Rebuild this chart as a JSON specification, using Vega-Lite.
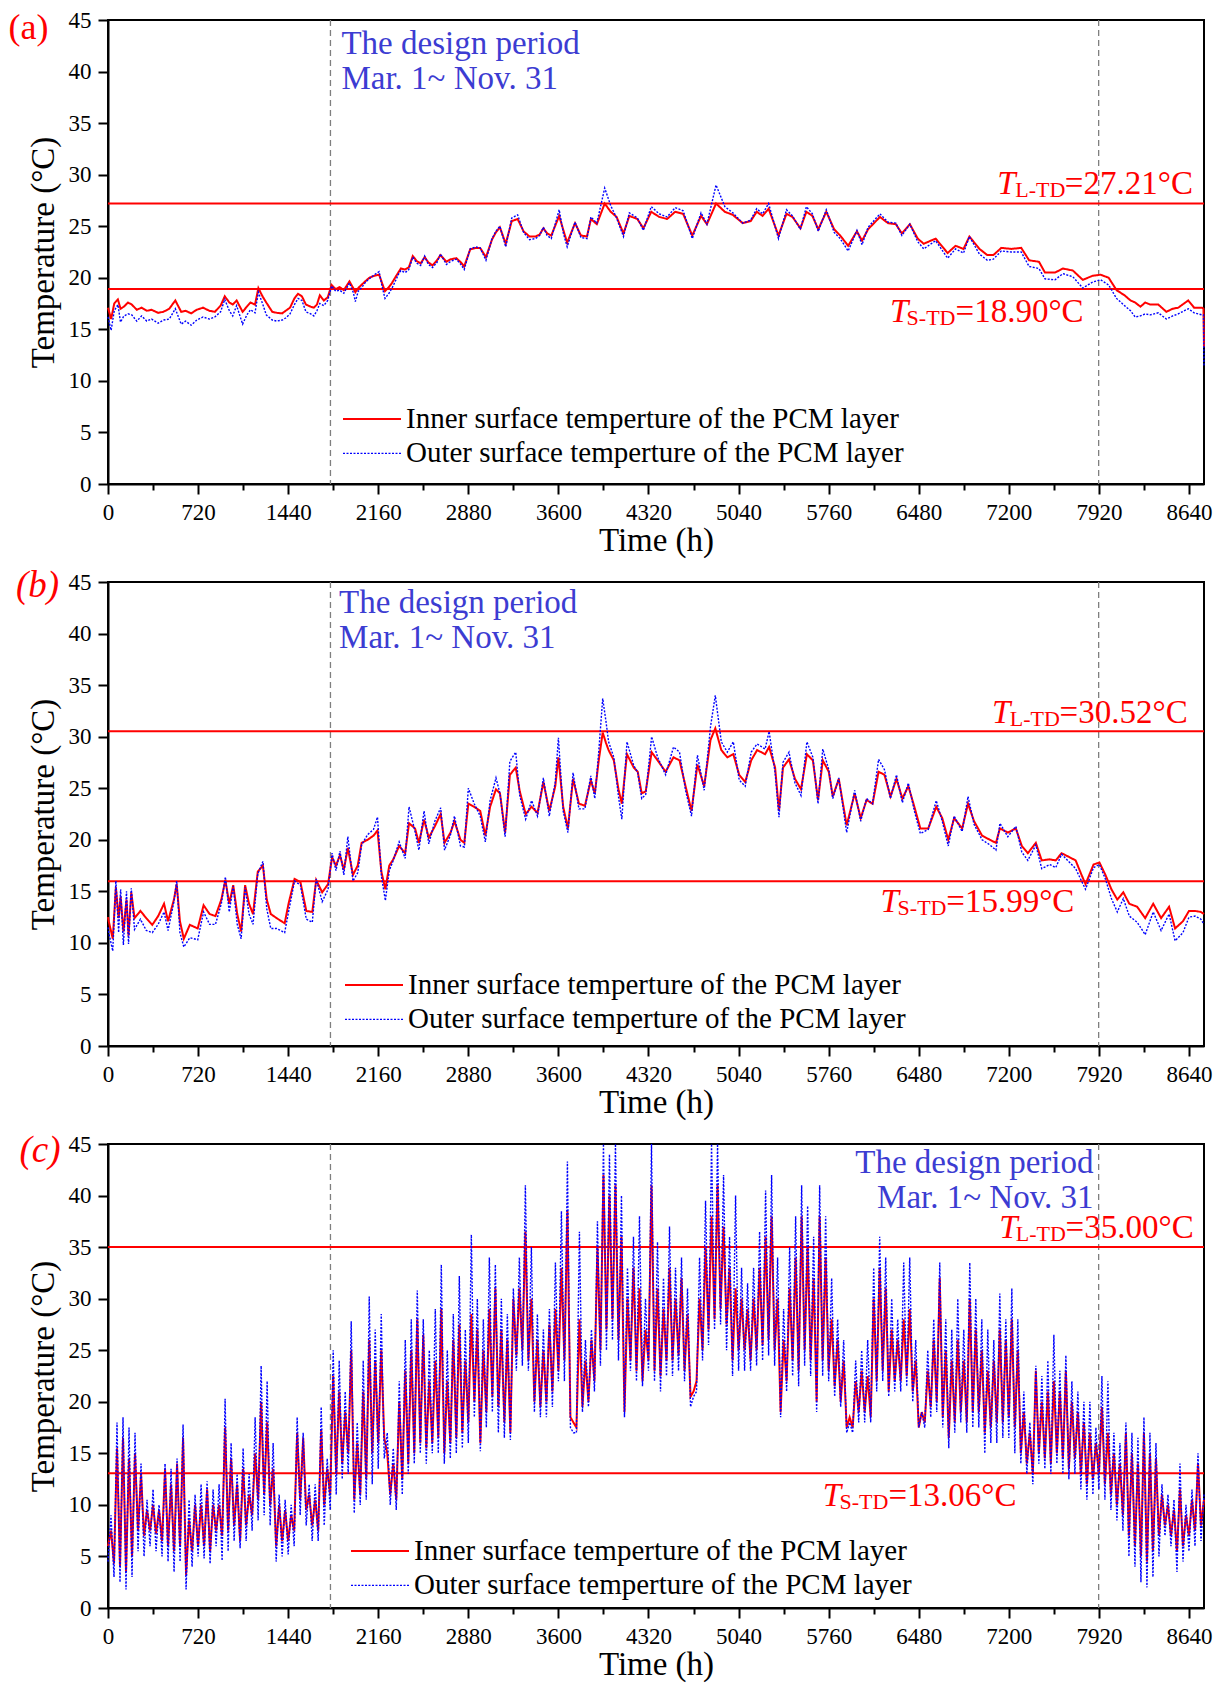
{
"$schema": "https://vega.github.io/schema/vega-lite/v6.json",
"padding": {"left": 7, "top": 8, "right": 5, "bottom": 5},
"background": "white",
"datasets": {
"a": [
{"t":0,"i":17.1,"o":16.2},{"t":25,"i":16.0,"o":14.9},{"t":50,"i":17.5,"o":16.8},{"t":79,"i":17.9,"o":17.4},{"t":100,"i":17.0,"o":15.7},{"t":127,"i":17.2,"o":16.3},{"t":160,"i":17.6,"o":16.5},{"t":190,"i":17.4,"o":16.4},{"t":230,"i":16.9,"o":15.8},{"t":269,"i":17.1,"o":16.3},{"t":310,"i":16.8,"o":15.8},{"t":348,"i":16.9,"o":16.0},{"t":400,"i":16.6,"o":15.6},{"t":443,"i":16.7,"o":15.9},{"t":490,"i":17.0,"o":16.0},{"t":538,"i":17.8,"o":17.0},{"t":585,"i":16.7,"o":15.5},{"t":620,"i":16.8,"o":15.8},{"t":664,"i":16.55,"o":15.4},{"t":710,"i":16.9,"o":15.9},{"t":759,"i":17.1,"o":16.2},{"t":810,"i":16.8,"o":16.0},{"t":854,"i":16.7,"o":16.2},{"t":900,"i":17.3,"o":16.7},{"t":933,"i":18.2,"o":17.9},{"t":970,"i":17.6,"o":16.8},{"t":997,"i":17.4,"o":16.3},{"t":1028,"i":17.8,"o":17.3},{"t":1076,"i":16.7,"o":15.5},{"t":1110,"i":17.2,"o":16.4},{"t":1139,"i":17.6,"o":16.9},{"t":1175,"i":17.4,"o":16.6},{"t":1202,"i":19.0,"o":18.6},{"t":1235,"i":18.2,"o":17.5},{"t":1265,"i":17.6,"o":16.4},{"t":1313,"i":16.7,"o":15.9},{"t":1350,"i":16.6,"o":15.8},{"t":1392,"i":16.55,"o":15.9},{"t":1420,"i":16.8,"o":16.1},{"t":1455,"i":17.1,"o":16.5},{"t":1490,"i":18.0,"o":17.4},{"t":1519,"i":18.45,"o":18.0},{"t":1550,"i":18.2,"o":17.8},{"t":1582,"i":17.4,"o":16.7},{"t":1620,"i":17.2,"o":16.5},{"t":1645,"i":17.1,"o":16.3},{"t":1670,"i":17.4,"o":16.8},{"t":1693,"i":18.3,"o":17.5},{"t":1725,"i":17.8,"o":17.3},{"t":1756,"i":18.1,"o":17.8},{"t":1787,"i":19.3,"o":19.2},{"t":1820,"i":18.9,"o":18.7},{"t":1851,"i":19.1,"o":18.8},{"t":1885,"i":18.8,"o":18.5},{"t":1930,"i":19.65,"o":19.5},{"t":1960,"i":19.0,"o":18.6},{"t":1977,"i":18.6,"o":17.7},{"t":2000,"i":19.0,"o":18.7},{"t":2025,"i":19.3,"o":19.0},{"t":2060,"i":19.7,"o":19.6},{"t":2088,"i":20.0,"o":19.9},{"t":2130,"i":20.2,"o":20.3},{"t":2167,"i":20.3,"o":20.6},{"t":2190,"i":19.5,"o":19.2},{"t":2214,"i":18.7,"o":18.0},{"t":2246,"i":19.1,"o":18.5},{"t":2270,"i":19.5,"o":19.0},{"t":2294,"i":20.0,"o":19.6},{"t":2320,"i":20.5,"o":20.3},{"t":2341,"i":20.9,"o":20.7},{"t":2375,"i":20.8,"o":20.5},{"t":2404,"i":21.0,"o":20.8},{"t":2436,"i":22.1,"o":22.0},{"t":2470,"i":21.6,"o":21.4},{"t":2499,"i":21.4,"o":21.2},{"t":2531,"i":22.0,"o":22.1},{"t":2560,"i":21.5,"o":21.3},{"t":2594,"i":21.2,"o":21.0},{"t":2630,"i":21.7,"o":21.5},{"t":2657,"i":22.2,"o":22.3},{"t":2705,"i":21.55,"o":21.3},{"t":2740,"i":21.8,"o":21.6},{"t":2784,"i":21.9,"o":21.8},{"t":2820,"i":21.5,"o":21.3},{"t":2847,"i":21.1,"o":20.8},{"t":2895,"i":22.75,"o":22.8},{"t":2940,"i":22.9,"o":23.0},{"t":2974,"i":22.9,"o":22.9},{"t":3021,"i":22.0,"o":21.7},{"t":3069,"i":23.7,"o":23.8},{"t":3100,"i":24.4,"o":24.5},{"t":3132,"i":24.9,"o":25.0},{"t":3179,"i":23.3,"o":23.0},{"t":3227,"i":25.5,"o":25.8},{"t":3274,"i":25.7,"o":26.1},{"t":3322,"i":24.5,"o":24.4},{"t":3369,"i":24.0,"o":23.7},{"t":3417,"i":24.0,"o":23.8},{"t":3450,"i":24.2,"o":24.1},{"t":3480,"i":24.8,"o":24.9},{"t":3510,"i":24.3,"o":24.1},{"t":3543,"i":24.1,"o":23.8},{"t":3606,"i":26.0,"o":26.6},{"t":3640,"i":24.6,"o":24.3},{"t":3670,"i":23.4,"o":23.0},{"t":3733,"i":25.3,"o":25.4},{"t":3780,"i":24.1,"o":23.9},{"t":3828,"i":24.0,"o":23.8},{"t":3860,"i":25.7,"o":25.9},{"t":3907,"i":25.2,"o":25.3},{"t":3970,"i":27.2,"o":28.7},{"t":4018,"i":26.4,"o":27.0},{"t":4065,"i":25.9,"o":25.8},{"t":4120,"i":24.3,"o":24.0},{"t":4167,"i":26.0,"o":26.3},{"t":4231,"i":25.7,"o":25.8},{"t":4279,"i":24.8,"o":24.6},{"t":4342,"i":26.4,"o":26.9},{"t":4406,"i":25.9,"o":26.2},{"t":4469,"i":25.7,"o":25.9},{"t":4533,"i":26.4,"o":26.8},{"t":4597,"i":26.2,"o":26.5},{"t":4670,"i":24.1,"o":23.8},{"t":4740,"i":26.0,"o":26.3},{"t":4787,"i":25.2,"o":25.2},{"t":4860,"i":27.2,"o":29.0},{"t":4930,"i":26.4,"o":26.9},{"t":4994,"i":26.1,"o":26.3},{"t":5073,"i":25.3,"o":25.3},{"t":5137,"i":25.5,"o":25.6},{"t":5185,"i":26.4,"o":26.7},{"t":5232,"i":26.0,"o":26.2},{"t":5280,"i":26.7,"o":27.2},{"t":5359,"i":24.1,"o":23.8},{"t":5423,"i":26.2,"o":26.6},{"t":5471,"i":25.9,"o":26.0},{"t":5534,"i":24.8,"o":24.7},{"t":5582,"i":26.4,"o":26.9},{"t":5630,"i":26.0,"o":26.2},{"t":5677,"i":24.7,"o":24.5},{"t":5741,"i":26.4,"o":26.6},{"t":5804,"i":24.7,"o":24.4},{"t":5852,"i":24.1,"o":23.8},{"t":5916,"i":23.1,"o":22.6},{"t":5986,"i":24.5,"o":24.6},{"t":6027,"i":23.6,"o":23.2},{"t":6075,"i":24.7,"o":24.9},{"t":6170,"i":25.9,"o":26.2},{"t":6234,"i":25.3,"o":25.4},{"t":6297,"i":25.2,"o":25.3},{"t":6345,"i":24.3,"o":24.1},{"t":6409,"i":25.2,"o":25.2},{"t":6472,"i":23.8,"o":23.5},{"t":6520,"i":23.3,"o":22.8},{"t":6615,"i":23.8,"o":23.6},{"t":6711,"i":22.4,"o":21.9},{"t":6774,"i":23.1,"o":22.8},{"t":6838,"i":22.8,"o":22.4},{"t":6885,"i":24.0,"o":24.0},{"t":6965,"i":22.8,"o":22.3},{"t":7028,"i":22.2,"o":21.7},{"t":7076,"i":22.2,"o":21.8},{"t":7140,"i":22.9,"o":22.6},{"t":7219,"i":22.8,"o":22.5},{"t":7299,"i":22.9,"o":22.5},{"t":7362,"i":21.7,"o":21.1},{"t":7441,"i":21.55,"o":20.9},{"t":7489,"i":20.5,"o":19.9},{"t":7569,"i":20.5,"o":19.8},{"t":7632,"i":20.9,"o":20.4},{"t":7712,"i":20.7,"o":20.1},{"t":7791,"i":19.8,"o":19.0},{"t":7871,"i":20.2,"o":19.6},{"t":7934,"i":20.3,"o":19.8},{"t":7998,"i":20.0,"o":19.3},{"t":8061,"i":18.8,"o":18.0},{"t":8125,"i":18.3,"o":17.3},{"t":8173,"i":17.8,"o":16.8},{"t":8210,"i":17.6,"o":16.2},{"t":8252,"i":17.2,"o":16.3},{"t":8290,"i":17.6,"o":16.5},{"t":8331,"i":17.4,"o":16.4},{"t":8395,"i":17.4,"o":16.6},{"t":8459,"i":16.7,"o":16.0},{"t":8510,"i":17.0,"o":16.3},{"t":8554,"i":17.1,"o":16.5},{"t":8634,"i":17.8,"o":17.0},{"t":8681,"i":17.1,"o":16.6},{"t":8745,"i":17.1,"o":16.4},{"t":8756,"i":17.0,"o":16.4},{"t":8760,"i":13.3,"o":11.5}
],
"b": [
{"t":0,"i":12.5,"o":11.5},{"t":6,"i":12.1,"o":11.0},{"t":38,"i":10.4,"o":9.2},{"t":63,"i":15.4,"o":16.0},{"t":85,"i":12.4,"o":11.0},{"t":101,"i":14.5,"o":15.2},{"t":123,"i":11.1,"o":9.8},{"t":148,"i":14.2,"o":15.0},{"t":164,"i":10.7,"o":9.9},{"t":186,"i":14.9,"o":15.3},{"t":212,"i":12.4,"o":11.3},{"t":259,"i":13.1,"o":12.3},{"t":306,"i":12.4,"o":11.2},{"t":354,"i":11.75,"o":11.0},{"t":401,"i":12.6,"o":11.8},{"t":448,"i":13.8,"o":13.0},{"t":480,"i":12.1,"o":11.2},{"t":527,"i":14.2,"o":14.0},{"t":549,"i":15.7,"o":16.0},{"t":575,"i":12.1,"o":11.0},{"t":606,"i":10.4,"o":9.6},{"t":654,"i":11.75,"o":10.5},{"t":717,"i":11.4,"o":10.3},{"t":764,"i":13.65,"o":13.0},{"t":812,"i":12.8,"o":11.8},{"t":859,"i":12.6,"o":11.8},{"t":906,"i":14.2,"o":13.8},{"t":938,"i":16.1,"o":16.4},{"t":969,"i":13.8,"o":13.0},{"t":1001,"i":15.6,"o":15.5},{"t":1033,"i":12.8,"o":11.8},{"t":1064,"i":11.1,"o":10.4},{"t":1096,"i":15.6,"o":15.4},{"t":1127,"i":13.8,"o":12.8},{"t":1159,"i":12.8,"o":11.8},{"t":1197,"i":16.9,"o":16.7},{"t":1238,"i":17.5,"o":17.9},{"t":1269,"i":14.2,"o":13.3},{"t":1301,"i":12.8,"o":11.4},{"t":1348,"i":12.4,"o":11.4},{"t":1412,"i":11.9,"o":11.0},{"t":1443,"i":13.8,"o":13.0},{"t":1491,"i":16.2,"o":16.0},{"t":1538,"i":15.9,"o":15.6},{"t":1585,"i":13.1,"o":12.3},{"t":1633,"i":13.0,"o":12.0},{"t":1664,"i":16.1,"o":16.2},{"t":1712,"i":14.9,"o":14.0},{"t":1759,"i":15.7,"o":15.2},{"t":1791,"i":18.3,"o":18.7},{"t":1822,"i":17.5,"o":17.0},{"t":1854,"i":18.5,"o":18.9},{"t":1885,"i":17.1,"o":16.6},{"t":1917,"i":19.2,"o":20.3},{"t":1958,"i":16.6,"o":16.0},{"t":1996,"i":17.5,"o":16.8},{"t":2027,"i":19.7,"o":19.5},{"t":2075,"i":20.0,"o":20.5},{"t":2122,"i":20.4,"o":21.0},{"t":2154,"i":20.9,"o":22.2},{"t":2185,"i":16.9,"o":16.5},{"t":2217,"i":15.2,"o":14.1},{"t":2248,"i":17.5,"o":17.0},{"t":2280,"i":18.1,"o":18.0},{"t":2327,"i":19.4,"o":19.8},{"t":2375,"i":18.7,"o":18.2},{"t":2406,"i":21.6,"o":23.2},{"t":2454,"i":21.1,"o":20.8},{"t":2485,"i":19.7,"o":19.0},{"t":2526,"i":21.95,"o":22.8},{"t":2564,"i":20.2,"o":19.6},{"t":2612,"i":21.3,"o":21.8},{"t":2659,"i":22.5,"o":23.1},{"t":2690,"i":19.7,"o":19.0},{"t":2738,"i":20.7,"o":20.5},{"t":2769,"i":21.8,"o":22.3},{"t":2817,"i":20.0,"o":19.4},{"t":2848,"i":19.7,"o":19.3},{"t":2880,"i":23.5,"o":25.0},{"t":2927,"i":23.2,"o":23.5},{"t":2975,"i":22.8,"o":22.3},{"t":3016,"i":20.4,"o":19.8},{"t":3054,"i":23.2,"o":23.8},{"t":3101,"i":24.9,"o":26.0},{"t":3133,"i":24.5,"o":24.5},{"t":3174,"i":20.7,"o":20.3},{"t":3212,"i":26.3,"o":27.6},{"t":3259,"i":27.0,"o":28.5},{"t":3291,"i":24.7,"o":24.3},{"t":3338,"i":22.5,"o":22.0},{"t":3386,"i":23.2,"o":23.8},{"t":3433,"i":22.6,"o":22.3},{"t":3480,"i":25.6,"o":26.0},{"t":3527,"i":22.8,"o":22.3},{"t":3575,"i":25.2,"o":25.6},{"t":3600,"i":28.0,"o":29.9},{"t":3638,"i":23.2,"o":22.8},{"t":3676,"i":21.1,"o":20.7},{"t":3717,"i":25.9,"o":26.5},{"t":3764,"i":23.5,"o":23.0},{"t":3812,"i":23.3,"o":23.0},{"t":3859,"i":25.75,"o":26.2},{"t":3891,"i":24.5,"o":24.0},{"t":3922,"i":27.65,"o":28.5},{"t":3954,"i":30.4,"o":33.7},{"t":3980,"i":29.4,"o":31.5},{"t":4001,"i":28.7,"o":29.5},{"t":4043,"i":27.7,"o":28.0},{"t":4080,"i":24.9,"o":24.2},{"t":4107,"i":23.5,"o":22.0},{"t":4148,"i":28.3,"o":29.5},{"t":4202,"i":27.0,"o":27.2},{"t":4234,"i":26.6,"o":26.5},{"t":4266,"i":24.5,"o":24.0},{"t":4298,"i":24.7,"o":24.4},{"t":4345,"i":28.5,"o":30.0},{"t":4393,"i":27.7,"o":28.0},{"t":4457,"i":26.6,"o":26.3},{"t":4520,"i":28.0,"o":29.0},{"t":4568,"i":27.7,"o":28.5},{"t":4616,"i":25.2,"o":24.8},{"t":4664,"i":22.8,"o":22.3},{"t":4711,"i":27.3,"o":28.2},{"t":4765,"i":25.2,"o":24.8},{"t":4816,"i":29.7,"o":31.0},{"t":4854,"i":30.8,"o":34.0},{"t":4902,"i":28.7,"o":29.5},{"t":4950,"i":28.0,"o":28.5},{"t":4998,"i":28.3,"o":29.5},{"t":5045,"i":26.3,"o":25.8},{"t":5093,"i":25.6,"o":25.2},{"t":5141,"i":27.7,"o":28.5},{"t":5188,"i":28.7,"o":29.3},{"t":5252,"i":28.3,"o":28.8},{"t":5284,"i":29.0,"o":30.5},{"t":5332,"i":27.0,"o":26.5},{"t":5363,"i":22.8,"o":22.2},{"t":5395,"i":27.0,"o":27.5},{"t":5443,"i":27.8,"o":28.5},{"t":5491,"i":25.9,"o":25.5},{"t":5539,"i":24.9,"o":24.3},{"t":5586,"i":28.3,"o":29.5},{"t":5634,"i":27.7,"o":28.0},{"t":5675,"i":23.85,"o":23.5},{"t":5713,"i":27.7,"o":28.8},{"t":5761,"i":26.6,"o":26.8},{"t":5793,"i":24.2,"o":24.0},{"t":5841,"i":25.9,"o":26.0},{"t":5904,"i":21.4,"o":20.7},{"t":5968,"i":24.5,"o":24.8},{"t":6016,"i":22.1,"o":21.8},{"t":6063,"i":23.85,"o":24.0},{"t":6111,"i":23.5,"o":23.5},{"t":6159,"i":26.6,"o":27.8},{"t":6206,"i":26.3,"o":26.8},{"t":6254,"i":24.2,"o":24.0},{"t":6302,"i":25.9,"o":26.3},{"t":6349,"i":24.0,"o":23.6},{"t":6397,"i":25.2,"o":25.5},{"t":6445,"i":23.2,"o":22.8},{"t":6493,"i":21.1,"o":20.6},{"t":6556,"i":21.1,"o":21.0},{"t":6620,"i":23.2,"o":23.8},{"t":6668,"i":22.1,"o":21.8},{"t":6716,"i":20.0,"o":19.4},{"t":6763,"i":22.1,"o":22.3},{"t":6827,"i":21.1,"o":20.8},{"t":6874,"i":23.5,"o":24.2},{"t":6922,"i":21.8,"o":21.5},{"t":6986,"i":20.4,"o":20.0},{"t":7049,"i":20.0,"o":19.5},{"t":7097,"i":19.7,"o":19.0},{"t":7129,"i":21.1,"o":21.6},{"t":7192,"i":20.7,"o":20.3},{"t":7256,"i":21.1,"o":21.3},{"t":7304,"i":19.4,"o":18.8},{"t":7352,"i":18.7,"o":18.0},{"t":7416,"i":19.7,"o":19.5},{"t":7463,"i":18.0,"o":17.2},{"t":7527,"i":18.1,"o":17.6},{"t":7575,"i":18.0,"o":17.3},{"t":7622,"i":18.7,"o":18.6},{"t":7686,"i":18.3,"o":17.8},{"t":7734,"i":18.0,"o":17.2},{"t":7781,"i":16.6,"o":16.0},{"t":7813,"i":15.7,"o":15.2},{"t":7877,"i":17.6,"o":17.3},{"t":7924,"i":17.8,"o":17.6},{"t":7972,"i":16.6,"o":16.2},{"t":8020,"i":15.2,"o":14.3},{"t":8067,"i":14.2,"o":13.0},{"t":8115,"i":14.9,"o":14.3},{"t":8163,"i":13.8,"o":12.6},{"t":8226,"i":13.5,"o":12.0},{"t":8290,"i":12.4,"o":10.8},{"t":8354,"i":13.8,"o":13.0},{"t":8417,"i":12.4,"o":11.2},{"t":8481,"i":13.5,"o":12.8},{"t":8529,"i":11.4,"o":10.2},{"t":8592,"i":12.1,"o":11.0},{"t":8640,"i":13.1,"o":12.5},{"t":8688,"i":13.1,"o":12.6},{"t":8735,"i":13.0,"o":12.3},{"t":8760,"i":12.8,"o":11.8}
],
"c": [
{"t":0,"i":6.0,"o":4.5},{"t":24,"i":7.5,"o":9.0},{"t":48,"i":4.3,"o":3.0},{"t":72,"i":15.5,"o":18.0},{"t":96,"i":4.0,"o":2.5},{"t":120,"i":16.5,"o":18.5},{"t":144,"i":3.5,"o":1.8},{"t":168,"i":14.5,"o":17.5},{"t":192,"i":5.0,"o":3.0},{"t":216,"i":15.0,"o":17.0},
{"t":240,"i":7.5,"o":5.5},{"t":264,"i":13.0,"o":14.0},{"t":288,"i":7.0,"o":5.0},{"t":312,"i":9.5,"o":10.5},{"t":336,"i":7.5,"o":6.0},{"t":360,"i":10.0,"o":11.5},{"t":384,"i":7.2,"o":5.5},{"t":408,"i":9.5,"o":10.0},{"t":432,"i":6.5,"o":5.0},{"t":456,"i":13.5,"o":14.0},
{"t":480,"i":6.0,"o":4.5},{"t":504,"i":12.0,"o":13.5},{"t":528,"i":5.5,"o":3.5},{"t":552,"i":14.0,"o":14.5},{"t":576,"i":6.0,"o":4.5},{"t":600,"i":16.5,"o":17.8},{"t":624,"i":3.2,"o":1.8},{"t":648,"i":8.5,"o":10.5},{"t":672,"i":5.5,"o":4.0},{"t":696,"i":10.0,"o":11.0},
{"t":720,"i":6.0,"o":5.0},{"t":744,"i":10.0,"o":12.0},{"t":768,"i":6.0,"o":4.8},{"t":792,"i":11.5,"o":12.3},{"t":816,"i":5.5,"o":4.3},{"t":840,"i":10.0,"o":11.5},{"t":864,"i":7.5,"o":6.0},{"t":888,"i":10.0,"o":12.0},{"t":912,"i":7.0,"o":4.6},{"t":936,"i":17.5,"o":20.3},
{"t":960,"i":7.5,"o":5.5},{"t":984,"i":14.5,"o":16.0},{"t":1008,"i":8.0,"o":6.5},{"t":1032,"i":12.0,"o":13.0},{"t":1056,"i":6.5,"o":5.8},{"t":1080,"i":13.5,"o":15.5},{"t":1104,"i":8.0,"o":6.5},{"t":1128,"i":11.0,"o":13.0},{"t":1152,"i":9.0,"o":7.5},{"t":1176,"i":15.0,"o":18.5},
{"t":1200,"i":10.5,"o":8.5},{"t":1224,"i":20.0,"o":23.5},{"t":1248,"i":11.0,"o":9.0},{"t":1272,"i":18.0,"o":22.0},{"t":1296,"i":10.0,"o":8.0},{"t":1320,"i":13.5,"o":16.0},{"t":1344,"i":6.0,"o":4.5},{"t":1368,"i":10.0,"o":11.0},{"t":1392,"i":6.5,"o":5.0},{"t":1416,"i":9.5,"o":10.5},
{"t":1440,"i":6.5,"o":5.2},{"t":1464,"i":9.0,"o":10.0},{"t":1488,"i":7.5,"o":6.0},{"t":1512,"i":17.0,"o":18.5},{"t":1536,"i":10.5,"o":9.0},{"t":1560,"i":16.5,"o":17.0},{"t":1584,"i":9.5,"o":8.0},{"t":1608,"i":11.0,"o":12.0},{"t":1632,"i":8.0,"o":6.5},{"t":1656,"i":10.5,"o":12.0},
{"t":1680,"i":7.5,"o":6.5},{"t":1704,"i":17.3,"o":19.5},{"t":1728,"i":10.0,"o":8.0},{"t":1752,"i":13.5,"o":14.5},{"t":1776,"i":11.0,"o":9.5},{"t":1800,"i":22.5,"o":25.0},{"t":1824,"i":13.0,"o":11.0},{"t":1848,"i":21.0,"o":24.0},{"t":1872,"i":14.0,"o":12.5},{"t":1896,"i":19.0,"o":21.0},
{"t":1920,"i":15.0,"o":13.0},{"t":1944,"i":25.0,"o":27.8},{"t":1968,"i":10.5,"o":9.2},{"t":1992,"i":16.0,"o":18.0},{"t":2016,"i":11.0,"o":10.0},{"t":2040,"i":21.0,"o":24.0},{"t":2064,"i":12.5,"o":10.5},{"t":2088,"i":26.0,"o":30.2},{"t":2112,"i":15.0,"o":12.0},{"t":2136,"i":24.0,"o":27.0},
{"t":2160,"i":16.0,"o":13.5},{"t":2184,"i":25.0,"o":28.5},{"t":2208,"i":16.5,"o":14.5},{"t":2232,"i":15.0,"o":17.0},{"t":2256,"i":11.0,"o":10.0},{"t":2280,"i":14.0,"o":15.5},{"t":2304,"i":10.5,"o":9.5},{"t":2328,"i":20.0,"o":22.0},{"t":2352,"i":12.5,"o":11.0},{"t":2376,"i":23.0,"o":26.0},
{"t":2400,"i":14.0,"o":13.0},{"t":2424,"i":25.0,"o":28.0},{"t":2448,"i":15.0,"o":14.0},{"t":2472,"i":28.0,"o":30.8},{"t":2496,"i":16.0,"o":15.0},{"t":2520,"i":26.5,"o":28.0},{"t":2544,"i":15.5,"o":14.0},{"t":2568,"i":22.0,"o":25.0},{"t":2592,"i":16.0,"o":15.0},{"t":2616,"i":24.0,"o":29.0},
{"t":2640,"i":16.5,"o":15.0},{"t":2664,"i":29.0,"o":33.3},{"t":2688,"i":15.0,"o":14.0},{"t":2712,"i":22.0,"o":25.0},{"t":2736,"i":16.0,"o":14.5},{"t":2760,"i":26.0,"o":28.5},{"t":2784,"i":16.5,"o":15.0},{"t":2808,"i":27.5,"o":32.2},{"t":2832,"i":17.0,"o":15.5},{"t":2856,"i":24.0,"o":27.0},
{"t":2880,"i":18.0,"o":16.0},{"t":2904,"i":28.5,"o":36.2},{"t":2928,"i":20.0,"o":18.5},{"t":2952,"i":27.0,"o":30.0},{"t":2976,"i":16.0,"o":15.2},{"t":3000,"i":25.0,"o":28.0},{"t":3024,"i":19.0,"o":17.5},{"t":3048,"i":29.0,"o":34.0},{"t":3072,"i":20.5,"o":19.0},{"t":3096,"i":31.0,"o":33.3},
{"t":3120,"i":19.5,"o":17.0},{"t":3144,"i":27.0,"o":30.0},{"t":3168,"i":18.0,"o":16.5},{"t":3192,"i":26.0,"o":28.5},{"t":3216,"i":17.0,"o":16.3},{"t":3240,"i":30.0,"o":31.0},{"t":3264,"i":24.5,"o":23.0},{"t":3288,"i":31.0,"o":34.0},{"t":3312,"i":25.0,"o":23.5},{"t":3336,"i":36.5,"o":41.0},
{"t":3360,"i":24.0,"o":23.0},{"t":3384,"i":30.0,"o":35.0},{"t":3408,"i":20.0,"o":19.0},{"t":3432,"i":26.0,"o":28.5},{"t":3456,"i":19.5,"o":18.5},{"t":3480,"i":25.0,"o":27.0},{"t":3504,"i":20.0,"o":18.5},{"t":3528,"i":27.5,"o":29.0},{"t":3552,"i":21.0,"o":19.5},{"t":3576,"i":29.0,"o":33.5},
{"t":3600,"i":23.0,"o":22.0},{"t":3624,"i":33.0,"o":38.5},{"t":3648,"i":24.0,"o":22.0},{"t":3672,"i":38.5,"o":43.3},{"t":3696,"i":18.5,"o":17.5},{"t":3720,"i":18.0,"o":17.0},{"t":3744,"i":17.5,"o":17.0},{"t":3768,"i":28.0,"o":36.5},{"t":3792,"i":19.5,"o":19.0},{"t":3816,"i":24.0,"o":26.0},
{"t":3840,"i":20.0,"o":19.5},{"t":3864,"i":26.0,"o":27.0},{"t":3888,"i":22.0,"o":21.0},{"t":3912,"i":35.0,"o":37.5},{"t":3936,"i":25.0,"o":23.5},{"t":3960,"i":42.0,"o":45.0},{"t":3984,"i":27.0,"o":25.0},{"t":4008,"i":40.0,"o":44.0},{"t":4032,"i":28.0,"o":26.0},{"t":4056,"i":41.0,"o":45.0},
{"t":4080,"i":26.0,"o":24.0},{"t":4104,"i":36.0,"o":40.0},{"t":4128,"i":19.0,"o":18.5},{"t":4152,"i":30.0,"o":33.0},{"t":4176,"i":24.0,"o":23.0},{"t":4200,"i":33.0,"o":36.0},{"t":4224,"i":23.0,"o":22.0},{"t":4248,"i":31.0,"o":38.0},{"t":4272,"i":22.0,"o":21.5},{"t":4296,"i":27.0,"o":30.0},
{"t":4320,"i":24.0,"o":23.0},{"t":4344,"i":41.0,"o":45.0},{"t":4368,"i":23.0,"o":22.0},{"t":4392,"i":31.0,"o":35.5},{"t":4416,"i":22.5,"o":21.0},{"t":4440,"i":29.0,"o":32.0},{"t":4464,"i":24.0,"o":22.5},{"t":4488,"i":33.0,"o":37.0},{"t":4512,"i":24.0,"o":22.5},{"t":4536,"i":30.0,"o":33.0},
{"t":4560,"i":24.5,"o":23.0},{"t":4584,"i":32.0,"o":34.0},{"t":4608,"i":23.0,"o":22.0},{"t":4632,"i":28.5,"o":31.0},{"t":4656,"i":20.5,"o":19.5},{"t":4680,"i":21.0,"o":20.5},{"t":4704,"i":22.0,"o":21.0},{"t":4728,"i":30.0,"o":34.0},{"t":4752,"i":25.0,"o":24.0},{"t":4776,"i":35.0,"o":39.5},
{"t":4800,"i":27.0,"o":25.5},{"t":4824,"i":38.0,"o":45.0},{"t":4848,"i":28.0,"o":27.0},{"t":4872,"i":41.0,"o":45.0},{"t":4896,"i":29.0,"o":27.5},{"t":4920,"i":37.0,"o":42.0},{"t":4944,"i":27.5,"o":25.0},{"t":4968,"i":33.0,"o":36.0},{"t":4992,"i":24.0,"o":22.5},{"t":5016,"i":31.0,"o":40.0},
{"t":5040,"i":25.0,"o":23.0},{"t":5064,"i":30.0,"o":33.0},{"t":5088,"i":25.0,"o":23.0},{"t":5112,"i":29.0,"o":31.5},{"t":5136,"i":24.0,"o":23.0},{"t":5160,"i":30.0,"o":33.0},{"t":5184,"i":25.0,"o":23.5},{"t":5208,"i":33.0,"o":36.5},{"t":5232,"i":25.5,"o":24.0},{"t":5256,"i":36.0,"o":40.5},
{"t":5280,"i":26.0,"o":24.5},{"t":5304,"i":38.0,"o":42.0},{"t":5328,"i":25.0,"o":23.5},{"t":5352,"i":30.0,"o":34.0},{"t":5376,"i":19.0,"o":18.5},{"t":5400,"i":26.0,"o":29.0},{"t":5424,"i":22.0,"o":21.0},{"t":5448,"i":31.0,"o":35.0},{"t":5472,"i":24.0,"o":22.5},{"t":5496,"i":34.0,"o":38.0},
{"t":5520,"i":23.0,"o":21.5},{"t":5544,"i":38.0,"o":41.0},{"t":5568,"i":25.0,"o":23.5},{"t":5592,"i":35.0,"o":39.0},{"t":5616,"i":24.0,"o":22.5},{"t":5640,"i":32.0,"o":36.0},{"t":5664,"i":20.0,"o":19.0},{"t":5688,"i":38.0,"o":41.0},{"t":5712,"i":24.0,"o":22.5},{"t":5736,"i":34.0,"o":38.0},
{"t":5760,"i":23.0,"o":22.0},{"t":5784,"i":28.0,"o":32.0},{"t":5808,"i":21.5,"o":20.5},{"t":5832,"i":26.0,"o":28.0},{"t":5856,"i":20.0,"o":19.5},{"t":5880,"i":24.0,"o":26.0},{"t":5904,"i":17.5,"o":17.0},{"t":5928,"i":18.5,"o":18.0},{"t":5952,"i":17.5,"o":17.0},{"t":5976,"i":22.0,"o":24.0},
{"t":6000,"i":19.0,"o":18.0},{"t":6024,"i":23.0,"o":25.0},{"t":6048,"i":19.0,"o":18.0},{"t":6072,"i":22.5,"o":26.0},{"t":6096,"i":18.5,"o":18.0},{"t":6120,"i":30.0,"o":33.0},{"t":6144,"i":22.0,"o":21.0},{"t":6168,"i":33.0,"o":36.0},{"t":6192,"i":23.0,"o":22.0},{"t":6216,"i":31.0,"o":34.0},
{"t":6240,"i":21.0,"o":20.5},{"t":6264,"i":27.0,"o":30.0},{"t":6288,"i":22.0,"o":21.0},{"t":6312,"i":26.0,"o":28.0},{"t":6336,"i":22.0,"o":21.0},{"t":6360,"i":28.0,"o":33.5},{"t":6384,"i":22.5,"o":21.5},{"t":6408,"i":29.0,"o":34.0},{"t":6432,"i":21.0,"o":20.0},{"t":6456,"i":24.0,"o":26.0},
{"t":6480,"i":17.5,"o":17.5},{"t":6504,"i":19.0,"o":19.0},{"t":6528,"i":18.0,"o":17.5},{"t":6552,"i":23.0,"o":25.0},{"t":6576,"i":19.5,"o":18.5},{"t":6600,"i":26.0,"o":28.0},{"t":6624,"i":20.0,"o":19.0},{"t":6648,"i":32.0,"o":33.5},{"t":6672,"i":18.5,"o":17.5},{"t":6696,"i":25.0,"o":28.0},
{"t":6720,"i":16.5,"o":15.5},{"t":6744,"i":24.0,"o":27.0},{"t":6768,"i":18.0,"o":17.0},{"t":6792,"i":26.0,"o":30.0},{"t":6816,"i":19.0,"o":18.0},{"t":6840,"i":24.0,"o":27.0},{"t":6864,"i":18.0,"o":17.0},{"t":6888,"i":30.0,"o":33.5},{"t":6912,"i":19.0,"o":17.5},{"t":6936,"i":27.0,"o":30.0},
{"t":6960,"i":19.0,"o":17.5},{"t":6984,"i":25.0,"o":28.0},{"t":7008,"i":17.0,"o":15.0},{"t":7032,"i":23.0,"o":27.0},{"t":7056,"i":17.5,"o":16.0},{"t":7080,"i":24.0,"o":26.0},{"t":7104,"i":18.0,"o":16.0},{"t":7128,"i":27.0,"o":30.5},{"t":7152,"i":18.0,"o":16.5},{"t":7176,"i":26.0,"o":28.0},
{"t":7200,"i":18.5,"o":16.5},{"t":7224,"i":28.0,"o":31.0},{"t":7248,"i":17.5,"o":15.0},{"t":7272,"i":25.0,"o":28.0},{"t":7296,"i":15.0,"o":14.0},{"t":7320,"i":19.0,"o":21.0},{"t":7344,"i":14.0,"o":13.0},{"t":7368,"i":17.0,"o":18.0},{"t":7392,"i":13.0,"o":12.0},{"t":7416,"i":23.0,"o":23.5},
{"t":7440,"i":15.0,"o":14.0},{"t":7464,"i":20.0,"o":22.5},{"t":7488,"i":14.5,"o":13.5},{"t":7512,"i":21.0,"o":24.0},{"t":7536,"i":14.0,"o":13.0},{"t":7560,"i":22.0,"o":26.5},{"t":7584,"i":15.0,"o":14.0},{"t":7608,"i":21.0,"o":23.0},{"t":7632,"i":14.5,"o":13.0},{"t":7656,"i":23.0,"o":24.5},
{"t":7680,"i":13.5,"o":12.5},{"t":7704,"i":20.0,"o":22.0},{"t":7728,"i":14.5,"o":13.0},{"t":7752,"i":19.0,"o":21.0},{"t":7776,"i":13.0,"o":11.5},{"t":7800,"i":18.0,"o":20.0},{"t":7824,"i":12.0,"o":10.5},{"t":7848,"i":17.0,"o":20.0},{"t":7872,"i":12.5,"o":11.0},{"t":7896,"i":16.0,"o":17.5},
{"t":7920,"i":13.0,"o":11.5},{"t":7944,"i":19.5,"o":22.5},{"t":7968,"i":12.0,"o":10.5},{"t":7992,"i":17.0,"o":22.0},{"t":8016,"i":11.0,"o":9.5},{"t":8040,"i":15.0,"o":17.0},{"t":8064,"i":10.0,"o":8.5},{"t":8088,"i":14.0,"o":16.0},{"t":8112,"i":9.0,"o":7.5},{"t":8136,"i":17.0,"o":18.0},
{"t":8160,"i":7.0,"o":5.0},{"t":8184,"i":15.0,"o":17.0},{"t":8208,"i":6.0,"o":4.0},{"t":8232,"i":14.0,"o":16.5},{"t":8256,"i":5.0,"o":2.5},{"t":8280,"i":17.0,"o":18.5},{"t":8304,"i":4.5,"o":2.0},{"t":8328,"i":15.0,"o":17.0},{"t":8352,"i":5.5,"o":3.0},{"t":8376,"i":14.5,"o":16.0},
{"t":8400,"i":7.0,"o":5.0},{"t":8424,"i":11.0,"o":12.0},{"t":8448,"i":8.0,"o":7.0},{"t":8472,"i":10.0,"o":11.0},{"t":8496,"i":7.0,"o":6.0},{"t":8520,"i":9.5,"o":10.5},{"t":8544,"i":5.5,"o":3.5},{"t":8568,"i":11.5,"o":14.0},{"t":8592,"i":6.0,"o":4.5},{"t":8616,"i":9.0,"o":10.0},
{"t":8640,"i":7.0,"o":5.5},{"t":8664,"i":10.5,"o":11.5},{"t":8688,"i":7.5,"o":6.0},{"t":8712,"i":14.0,"o":15.0},{"t":8736,"i":8.0,"o":6.5},{"t":8760,"i":10.5,"o":11.0}
]
},
"vconcat": [
{
"width": 1096, "height": 464,
"layer": [
{"data": {"values": [{}]}, "mark": {"type": "rule", "color": "#7f7f7f", "strokeDash": [6, 4], "strokeWidth": 1.3}, "encoding": {"x": {"datum": 1778}}},
{"data": {"values": [{}]}, "mark": {"type": "rule", "color": "#7f7f7f", "strokeDash": [6, 4], "strokeWidth": 1.3}, "encoding": {"x": {"datum": 7918}}},
{"data": {"values": [{}]}, "mark": {"type": "rule", "color": "#ff0000", "strokeWidth": 2}, "encoding": {"y": {"datum": 27.21}}},
{"data": {"values": [{}]}, "mark": {"type": "rule", "color": "#ff0000", "strokeWidth": 2}, "encoding": {"y": {"datum": 18.90}}},
{"data": {"name": "a"}, "transform": [{"fold": ["i", "o"], "as": ["s", "v"]}],
 "mark": {"type": "line"},
 "encoding": {
  "x": {"field": "t", "type": "quantitative", "scale": {"domain": [0, 8760], "nice": false, "zero": false}, "axis": {"title": "Time (h)", "values": [0,360,720,1080,1440,1800,2160,2520,2880,3240,3600,3960,4320,4680,5040,5400,5760,6120,6480,6840,7200,7560,7920,8280,8640], "labelExpr": "datum.value % 720 === 0 ? datum.label : ''", "format": "d", "labelOverlap": false, "labelFlush": false, "tickSize": {"condition": {"test": "datum.value % 720 === 0", "value": 10}, "value": 6}}},
  "y": {"field": "v", "type": "quantitative", "scale": {"domain": [0, 45], "nice": false}, "axis": {"title": "Temperature (°C)", "values": [0,2.5,5,7.5,10,12.5,15,17.5,20,22.5,25,27.5,30,32.5,35,37.5,40,42.5,45], "labelExpr": "datum.value % 5 === 0 ? datum.label : ''", "labelOverlap": false, "labelFlush": false, "tickSize": {"condition": {"test": "datum.value % 5 === 0", "value": 10}, "value": 6}}},
  "color": {"field": "s", "type": "ordinal", "scale": {"domain": ["i", "o"], "range": ["#ff0000", "#0000ff"]}, "legend": {"orient": "none", "legendX": 234, "legendY": 384, "title": null, "labelExpr": "datum.value == 'i' ? 'Inner surface temperture of the PCM layer' : 'Outer surface temperture of the PCM layer'"}},
  "strokeDash": {"field": "s", "type": "ordinal", "scale": {"domain": ["i", "o"], "range": [[1, 0], [2, 1.5]]}, "legend": {"orient": "none", "legendX": 234, "legendY": 384, "title": null, "labelExpr": "datum.value == 'i' ? 'Inner surface temperture of the PCM layer' : 'Outer surface temperture of the PCM layer'"}},
  "strokeWidth": {"field": "s", "type": "ordinal", "scale": {"domain": ["i", "o"], "range": [2, 1.4]}, "legend": {"orient": "none", "legendX": 234, "legendY": 384, "title": null, "labelExpr": "datum.value == 'i' ? 'Inner surface temperture of the PCM layer' : 'Outer surface temperture of the PCM layer'"}}
 }},
{"data": {"values": [{}]}, "mark": {"type": "text", "text": "(a)", "fontSize": 36, "color": "#ff0000", "align": "left", "baseline": "alphabetic"}, "encoding": {"x": {"datum": -795}, "y": {"datum": 43.2}}},
{"data": {"values": [{}]}, "mark": {"type": "text", "text": ["The design period", "Mar. 1~ Nov. 31"], "lineHeight": 35, "fontSize": 33, "color": "#3c3cd2", "align": "left", "baseline": "alphabetic"}, "encoding": {"x": {"datum": 1866}, "y": {"datum": 41.7}}},
{"data": {"values": [{}]}, "mark": {"type": "text", "text": "T", "fontStyle": "italic", "fontSize": 33, "color": "#ff0000", "align": "left", "baseline": "alphabetic"}, "encoding": {"x": {"datum": 7108}, "y": {"datum": 28.1}}},
{"data": {"values": [{}]}, "mark": {"type": "text", "text": "L-TD", "fontSize": 22, "color": "#ff0000", "align": "left", "baseline": "alphabetic"}, "encoding": {"x": {"datum": 7251}, "y": {"datum": 27.83}}},
{"data": {"values": [{}]}, "mark": {"type": "text", "text": "=27.21°C", "fontSize": 33, "color": "#ff0000", "align": "left", "baseline": "alphabetic"}, "encoding": {"x": {"datum": 7648}, "y": {"datum": 28.1}}},
{"data": {"values": [{}]}, "mark": {"type": "text", "text": "T", "fontStyle": "italic", "fontSize": 33, "color": "#ff0000", "align": "left", "baseline": "alphabetic"}, "encoding": {"x": {"datum": 6250}, "y": {"datum": 15.69}}},
{"data": {"values": [{}]}, "mark": {"type": "text", "text": "S-TD", "fontSize": 22, "color": "#ff0000", "align": "left", "baseline": "alphabetic"}, "encoding": {"x": {"datum": 6383}, "y": {"datum": 15.41}}},
{"data": {"values": [{}]}, "mark": {"type": "text", "text": "=18.90°C", "fontSize": 33, "color": "#ff0000", "align": "left", "baseline": "alphabetic"}, "encoding": {"x": {"datum": 6774}, "y": {"datum": 15.69}}}
]
},
{
"width": 1096, "height": 464,
"layer": [
{"data": {"values": [{}]}, "mark": {"type": "rule", "color": "#7f7f7f", "strokeDash": [6, 4], "strokeWidth": 1.3}, "encoding": {"x": {"datum": 1778}}},
{"data": {"values": [{}]}, "mark": {"type": "rule", "color": "#7f7f7f", "strokeDash": [6, 4], "strokeWidth": 1.3}, "encoding": {"x": {"datum": 7918}}},
{"data": {"values": [{}]}, "mark": {"type": "rule", "color": "#ff0000", "strokeWidth": 2}, "encoding": {"y": {"datum": 30.52}}},
{"data": {"values": [{}]}, "mark": {"type": "rule", "color": "#ff0000", "strokeWidth": 2}, "encoding": {"y": {"datum": 15.99}}},
{"data": {"name": "b"}, "transform": [{"fold": ["i", "o"], "as": ["s", "v"]}],
 "mark": {"type": "line"},
 "encoding": {
  "x": {"field": "t", "type": "quantitative", "scale": {"domain": [0, 8760], "nice": false, "zero": false}, "axis": {"title": "Time (h)", "values": [0,360,720,1080,1440,1800,2160,2520,2880,3240,3600,3960,4320,4680,5040,5400,5760,6120,6480,6840,7200,7560,7920,8280,8640], "labelExpr": "datum.value % 720 === 0 ? datum.label : ''", "format": "d", "labelOverlap": false, "labelFlush": false, "tickSize": {"condition": {"test": "datum.value % 720 === 0", "value": 10}, "value": 6}}},
  "y": {"field": "v", "type": "quantitative", "scale": {"domain": [0, 45], "nice": false}, "axis": {"title": "Temperature (°C)", "values": [0,2.5,5,7.5,10,12.5,15,17.5,20,22.5,25,27.5,30,32.5,35,37.5,40,42.5,45], "labelExpr": "datum.value % 5 === 0 ? datum.label : ''", "labelOverlap": false, "labelFlush": false, "tickSize": {"condition": {"test": "datum.value % 5 === 0", "value": 10}, "value": 6}}},
  "color": {"field": "s", "type": "ordinal", "scale": {"domain": ["i", "o"], "range": ["#ff0000", "#0000ff"]}, "legend": {"orient": "none", "legendX": 236, "legendY": 388, "title": null, "labelExpr": "datum.value == 'i' ? 'Inner surface temperture of the PCM layer' : 'Outer surface temperture of the PCM layer'"}},
  "strokeDash": {"field": "s", "type": "ordinal", "scale": {"domain": ["i", "o"], "range": [[1, 0], [2, 1.5]]}, "legend": {"orient": "none", "legendX": 236, "legendY": 388, "title": null, "labelExpr": "datum.value == 'i' ? 'Inner surface temperture of the PCM layer' : 'Outer surface temperture of the PCM layer'"}},
  "strokeWidth": {"field": "s", "type": "ordinal", "scale": {"domain": ["i", "o"], "range": [2, 1.4]}, "legend": {"orient": "none", "legendX": 236, "legendY": 388, "title": null, "labelExpr": "datum.value == 'i' ? 'Inner surface temperture of the PCM layer' : 'Outer surface temperture of the PCM layer'"}}
 }},
{"data": {"values": [{}]}, "mark": {"type": "text", "text": "(b)", "fontStyle": "italic", "fontSize": 37, "color": "#ff0000", "align": "left", "baseline": "alphabetic"}, "encoding": {"x": {"datum": -735}, "y": {"datum": 43.5}}},
{"data": {"values": [{}]}, "mark": {"type": "text", "text": ["The design period", "Mar. 1~ Nov. 31"], "lineHeight": 35, "fontSize": 33, "color": "#3c3cd2", "align": "left", "baseline": "alphabetic"}, "encoding": {"x": {"datum": 1847}, "y": {"datum": 42.0}}},
{"data": {"values": [{}]}, "mark": {"type": "text", "text": "T", "fontStyle": "italic", "fontSize": 33, "color": "#ff0000", "align": "left", "baseline": "alphabetic"}, "encoding": {"x": {"datum": 7065}, "y": {"datum": 31.28}}},
{"data": {"values": [{}]}, "mark": {"type": "text", "text": "L-TD", "fontSize": 22, "color": "#ff0000", "align": "left", "baseline": "alphabetic"}, "encoding": {"x": {"datum": 7208}, "y": {"datum": 31.0}}},
{"data": {"values": [{}]}, "mark": {"type": "text", "text": "=30.52°C", "fontSize": 33, "color": "#ff0000", "align": "left", "baseline": "alphabetic"}, "encoding": {"x": {"datum": 7606}, "y": {"datum": 31.28}}},
{"data": {"values": [{}]}, "mark": {"type": "text", "text": "T", "fontStyle": "italic", "fontSize": 33, "color": "#ff0000", "align": "left", "baseline": "alphabetic"}, "encoding": {"x": {"datum": 6175}, "y": {"datum": 12.96}}},
{"data": {"values": [{}]}, "mark": {"type": "text", "text": "S-TD", "fontSize": 22, "color": "#ff0000", "align": "left", "baseline": "alphabetic"}, "encoding": {"x": {"datum": 6311}, "y": {"datum": 12.69}}},
{"data": {"values": [{}]}, "mark": {"type": "text", "text": "=15.99°C", "fontSize": 33, "color": "#ff0000", "align": "left", "baseline": "alphabetic"}, "encoding": {"x": {"datum": 6700}, "y": {"datum": 12.96}}}
]
},
{
"width": 1096, "height": 464,
"layer": [
{"data": {"values": [{}]}, "mark": {"type": "rule", "color": "#7f7f7f", "strokeDash": [6, 4], "strokeWidth": 1.3}, "encoding": {"x": {"datum": 1778}}},
{"data": {"values": [{}]}, "mark": {"type": "rule", "color": "#7f7f7f", "strokeDash": [6, 4], "strokeWidth": 1.3}, "encoding": {"x": {"datum": 7918}}},
{"data": {"values": [{}]}, "mark": {"type": "rule", "color": "#ff0000", "strokeWidth": 2}, "encoding": {"y": {"datum": 35.0}}},
{"data": {"values": [{}]}, "mark": {"type": "rule", "color": "#ff0000", "strokeWidth": 2}, "encoding": {"y": {"datum": 13.06}}},
{"data": {"name": "c"}, "transform": [{"fold": ["i", "o"], "as": ["s", "v"]}],
 "mark": {"type": "line"},
 "encoding": {
  "x": {"field": "t", "type": "quantitative", "scale": {"domain": [0, 8760], "nice": false, "zero": false}, "axis": {"title": "Time (h)", "values": [0,360,720,1080,1440,1800,2160,2520,2880,3240,3600,3960,4320,4680,5040,5400,5760,6120,6480,6840,7200,7560,7920,8280,8640], "labelExpr": "datum.value % 720 === 0 ? datum.label : ''", "format": "d", "labelOverlap": false, "labelFlush": false, "tickSize": {"condition": {"test": "datum.value % 720 === 0", "value": 10}, "value": 6}}},
  "y": {"field": "v", "type": "quantitative", "scale": {"domain": [0, 45], "nice": false}, "axis": {"title": "Temperature (°C)", "values": [0,2.5,5,7.5,10,12.5,15,17.5,20,22.5,25,27.5,30,32.5,35,37.5,40,42.5,45], "labelExpr": "datum.value % 5 === 0 ? datum.label : ''", "labelOverlap": false, "labelFlush": false, "tickSize": {"condition": {"test": "datum.value % 5 === 0", "value": 10}, "value": 6}}},
  "color": {"field": "s", "type": "ordinal", "scale": {"domain": ["i", "o"], "range": ["#ff0000", "#0000ff"]}, "legend": {"orient": "none", "legendX": 242, "legendY": 392, "title": null, "labelExpr": "datum.value == 'i' ? 'Inner surface temperture of the PCM layer' : 'Outer surface temperture of the PCM layer'"}},
  "strokeDash": {"field": "s", "type": "ordinal", "scale": {"domain": ["i", "o"], "range": [[1, 0], [2, 1.5]]}, "legend": {"orient": "none", "legendX": 242, "legendY": 392, "title": null, "labelExpr": "datum.value == 'i' ? 'Inner surface temperture of the PCM layer' : 'Outer surface temperture of the PCM layer'"}},
  "strokeWidth": {"field": "s", "type": "ordinal", "scale": {"domain": ["i", "o"], "range": [2, 1.4]}, "legend": {"orient": "none", "legendX": 242, "legendY": 392, "title": null, "labelExpr": "datum.value == 'i' ? 'Inner surface temperture of the PCM layer' : 'Outer surface temperture of the PCM layer'"}}
 }},
{"data": {"values": [{}]}, "mark": {"type": "text", "text": "(c)", "fontStyle": "italic", "fontSize": 37, "color": "#ff0000", "align": "left", "baseline": "alphabetic"}, "encoding": {"x": {"datum": -708}, "y": {"datum": 43.3}}},
{"data": {"values": [{}]}, "mark": {"type": "text", "text": ["The design period", "Mar. 1~ Nov. 31"], "lineHeight": 35, "fontSize": 33, "color": "#3c3cd2", "align": "right", "baseline": "alphabetic"}, "encoding": {"x": {"datum": 7877}, "y": {"datum": 42.2}}},
{"data": {"values": [{}]}, "mark": {"type": "text", "text": "T", "fontStyle": "italic", "fontSize": 33, "color": "#ff0000", "align": "left", "baseline": "alphabetic"}, "encoding": {"x": {"datum": 7123}, "y": {"datum": 35.87}}},
{"data": {"values": [{}]}, "mark": {"type": "text", "text": "L-TD", "fontSize": 22, "color": "#ff0000", "align": "left", "baseline": "alphabetic"}, "encoding": {"x": {"datum": 7256}, "y": {"datum": 35.59}}},
{"data": {"values": [{}]}, "mark": {"type": "text", "text": "=35.00°C", "fontSize": 33, "color": "#ff0000", "align": "left", "baseline": "alphabetic"}, "encoding": {"x": {"datum": 7654}, "y": {"datum": 35.87}}},
{"data": {"values": [{}]}, "mark": {"type": "text", "text": "T", "fontStyle": "italic", "fontSize": 33, "color": "#ff0000", "align": "left", "baseline": "alphabetic"}, "encoding": {"x": {"datum": 5713}, "y": {"datum": 9.9}}},
{"data": {"values": [{}]}, "mark": {"type": "text", "text": "S-TD", "fontSize": 22, "color": "#ff0000", "align": "left", "baseline": "alphabetic"}, "encoding": {"x": {"datum": 5847}, "y": {"datum": 9.62}}},
{"data": {"values": [{}]}, "mark": {"type": "text", "text": "=13.06°C", "fontSize": 33, "color": "#ff0000", "align": "left", "baseline": "alphabetic"}, "encoding": {"x": {"datum": 6238}, "y": {"datum": 9.9}}}
]
}
],
"spacing": 98,
"bounds": "flush",
"resolve": {"scale": {"color": "independent", "strokeDash": "independent", "strokeWidth": "independent"}, "legend": {"color": "independent", "strokeDash": "independent", "strokeWidth": "independent"}},
"config": {
 "font": "Liberation Serif",
 "view": {"stroke": "#000000", "strokeWidth": 2},
 "text": {"font": "Liberation Serif"},
 "axis": {"labelFont": "Liberation Serif", "labelFontSize": 23, "labelColor": "#000000", "labelPadding": 7, "titleFont": "Liberation Serif", "titleFontSize": 33, "titleFontWeight": "normal", "titleColor": "#000000", "domainColor": "#000000", "domainWidth": 2, "tickColor": "#000000", "tickWidth": 2, "grid": false},
 "axisX": {"titlePadding": 0},
 "axisY": {"titlePadding": 8},
 "legend": {"labelFont": "Liberation Serif", "labelFontSize": 29, "labelColor": "#000000", "labelLimit": 0, "symbolType": "stroke", "symbolSize": 3364, "clipHeight": 30, "labelOffset": 4, "rowPadding": 4.4, "padding": 0, "symbolStrokeWidth": 2}
}
}
